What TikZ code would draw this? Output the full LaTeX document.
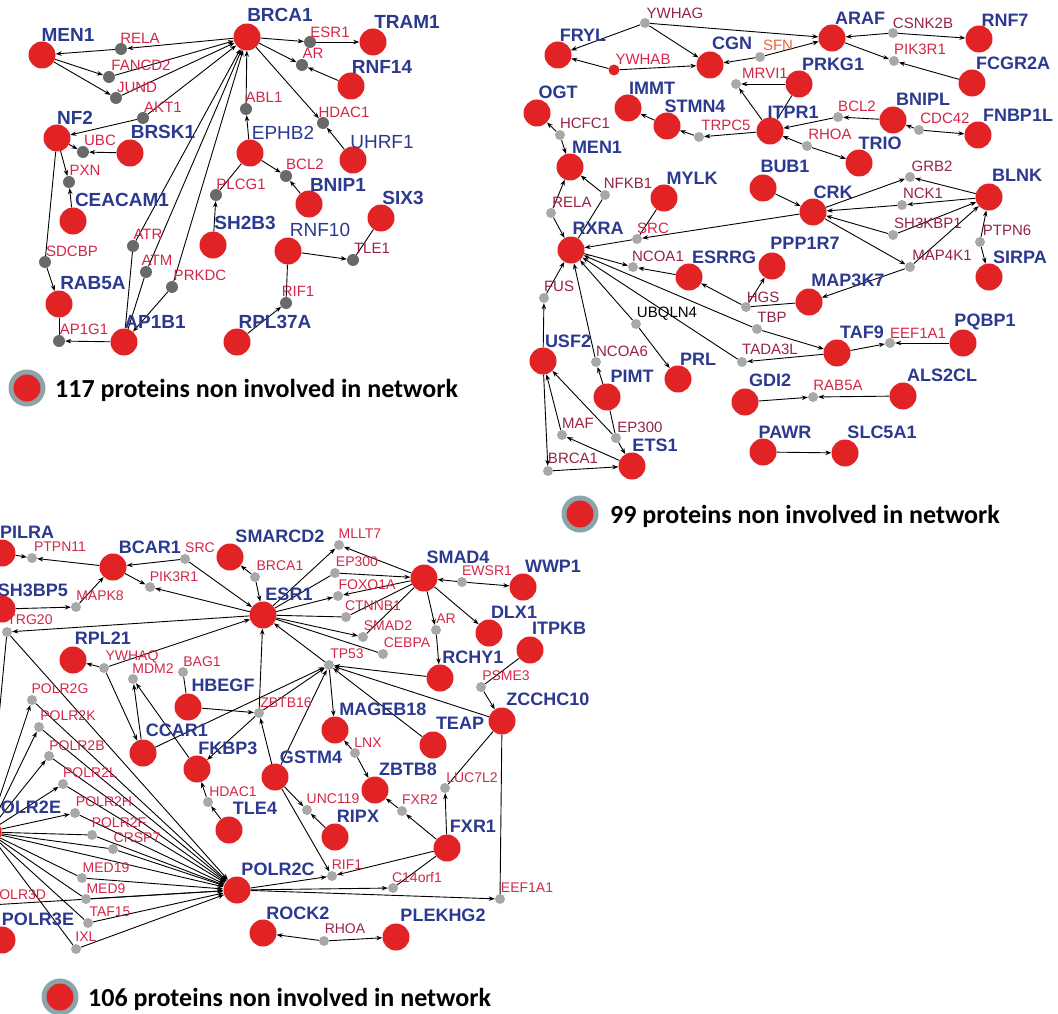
\documentclass[tikz,border=0pt]{standalone}
\usepackage{fontspec}
\setmainfont{Liberation Sans}
\newfontfamily\legendfont{Carlito}
\usetikzlibrary{arrows.meta}

\definecolor{protred}{RGB}{226,35,38}
\definecolor{protblue}{RGB}{43,57,144}
\definecolor{linkred}{RGB}{212,38,72}
\definecolor{linkmaroon}{RGB}{150,35,65}
\definecolor{sfnorange}{RGB}{232,102,52}
\definecolor{dotdark}{RGB}{105,105,105}
\definecolor{dotlight}{RGB}{168,168,168}
\definecolor{ringgray}{RGB}{140,165,170}

\pgfdeclarelayer{bg}
\pgfsetlayers{bg,main}

\tikzset{
  prot/.style={circle, fill=protred, minimum size=27pt, inner sep=0pt},
  dot/.style={circle, fill=dotlight, minimum size=10pt, inner sep=0pt},
  plab/.style={text=protblue, inner sep=0pt, font=\bfseries\fontsize{18}{18}\selectfont},
  lightlab/.style={font=\fontsize{19}{19}\selectfont},
  llab/.style={text=linkred, inner sep=0pt, font=\fontsize{14}{14}\selectfont},
  maroon/.style={text=linkmaroon},
  edge/.style={line width=0.9pt, black},
  legring/.style={circle, fill=ringgray, minimum size=37pt, inner sep=0pt},
  legdot/.style={circle, fill=protred, minimum size=27pt, inner sep=0pt},
  legtext/.style={inner sep=0pt, anchor=base west, font=\legendfont\bfseries\fontsize{26}{26}\selectfont},
  >={Stealth[length=6pt,width=4.5pt]},
}

% protein: [label style](name)(circle)(label){text}
\def\prot[#1](#2)(#3)(#4)#5{\node[prot] (#2) at (#3) {}; \node[plab,#1] (#2t) at (#4) {#5};}
% linker: [label style](name)(dot)(label){text}
\def\lnk[#1](#2)(#3)(#4)#5{\node[dot] (#2) at (#3) {}; \node[llab,#1] (#2t) at (#4) {#5};}

\begin{document}
\begin{tikzpicture}[x=1pt, y=-1pt]
  \useasboundingbox (0,0) rectangle (1058,1014);
  \clip (0,0) rectangle (1058,1014);

  %%%%% 117 %%%%%
  \begin{scope}[dot/.append style={fill=dotdark, minimum size=12pt},
      plab/.append style={font=\bfseries\fontsize{19}{19}\selectfont},
      llab/.append style={font=\fontsize{15}{15}\selectfont}]
    \prot[](aMEN1)(42,55)(68,35){MEN1}
    \prot[](aBRCA1)(247,37)(280,15){BRCA1}
    \prot[](aTRAM1)(373,42)(407,22){TRAM1}
    \prot[](aRNF14)(351,86)(382,67){RNF14}
    \prot[](aNF2)(57,138)(75,118){NF2}
    \prot[](aBRSK1)(130,153)(163,132){BRSK1}
    \prot[lightlab](aEPHB2)(250,153)(283,133){EPHB2}
    \prot[lightlab](aUHRF1)(353,160)(382,142){UHRF1}
    \prot[](aCEACAM1)(73,221)(122,200){CEACAM1}
    \prot[](aBNIP1)(309,204)(338,185){BNIP1}
    \prot[](aSIX3)(381,218)(403,198){SIX3}
    \prot[](aSH2B3)(213,245)(245,223){SH2B3}
    \prot[lightlab](aRNF10)(288,251)(320,230){RNF10}
    \prot[](aRAB5A)(59,304)(93,283){RAB5A}
    \prot[](aAP1B1)(124,342)(155,322){AP1B1}
    \prot[](aRPL37A)(237,342)(275,322){RPL37A}

    \lnk[](aRELA)(121,49)(140,38){RELA}
    \lnk[](aFANCD2)(109,77)(141,65){FANCD2}
    \lnk[](aJUND)(116,98)(137,87){JUND}
    \lnk[](aAKT1)(143,118)(163,107){AKT1}
    \lnk[](aUBC)(83,152)(100,140){UBC}
    \lnk[](aPXN)(69,182)(85,170){PXN}
    \lnk[](aESR1)(310,42)(330,32){ESR1}
    \lnk[](aAR)(302,65)(313,53){AR}
    \lnk[](aABL1)(246,109)(264,97){ABL1}
    \lnk[](aHDAC1)(323,123)(344,112){HDAC1}
    \lnk[](aBCL2)(286,176)(305,164){BCL2}
    \lnk[](aPLCG1)(216,195)(241,184){PLCG1}
    \lnk[](aSDCBP)(45,262)(72,251){SDCBP}
    \lnk[](aATR)(133,246)(148,234){ATR}
    \lnk[](aATM)(146,272)(157,260){ATM}
    \lnk[](aPRKDC)(172,287)(200,275){PRKDC}
    \lnk[](aAP1G1)(59,341)(84,329){AP1G1}
    \lnk[maroon](aTLE1)(353,260)(372,248){TLE1}
    \lnk[](aRIF1)(286,303)(298,291){RIF1}
  \end{scope}

  \begin{pgfonlayer}{bg}
    \foreach \u/\v in {aBRCA1/aRELA, aRELA/aMEN1, aMEN1/aFANCD2, aMEN1/aJUND,
        aFANCD2/aBRCA1, aJUND/aBRCA1, aAKT1/aNF2, aAKT1/aBRCA1, aNF2/aUBC,
        aBRSK1/aUBC, aNF2/aPXN, aCEACAM1/aPXN, aSDCBP/aRAB5A, aAP1B1/aAP1G1,
        aPRKDC/aAP1B1, aATR/aBRCA1, aATM/aBRCA1, aPRKDC/aBRCA1, aBRCA1/aESR1,
        aESR1/aTRAM1, aBRCA1/aAR, aRNF14/aAR, aBRCA1/aHDAC1, aUHRF1/aHDAC1,
        aABL1/aBRCA1, aEPHB2/aABL1, aEPHB2/aBCL2, aBNIP1/aBCL2, aSH2B3/aPLCG1,
        aRNF10/aTLE1, aRPL37A/aRIF1}
      \draw[edge,->] (\u) -- (\v);
    \foreach \u/\v in {aNF2/aSDCBP, aRAB5A/aAP1G1, aATR/aAP1B1, aATM/aAP1B1,
        aEPHB2/aPLCG1, aSIX3/aTLE1, aRNF10/aRIF1}
      \draw[edge] (\u) -- (\v);
  \end{pgfonlayer}

  \node[legring] (aleg) at (27,388) {};
  \node[legdot] (alegdot) at (aleg) {};
  \node[legtext] (alegt) at (55,397) {117 proteins non involved in network};

  %%%%% 99 %%%%%
  \begin{scope}[llab/.append style={font=\fontsize{15}{15}\selectfont}]
    \prot[](bFRYL)(558,55)(583,35){FRYL}
    \prot[](bCGN)(710,65)(732,43){CGN}
    \prot[](bARAF)(832,38)(860,18){ARAF}
    \prot[](bRNF7)(979,39)(1005,20){RNF7}
    \prot[](bFCGR2A)(972,83)(1013,63){FCGR2A}
    \prot[](bPRKG1)(799,84)(833,64){PRKG1}
    \prot[](bOGT)(537,113)(558,92){OGT}
    \prot[](bIMMT)(628,108)(652,88){IMMT}
    \prot[](bSTMN4)(667,126)(695,106){STMN4}
    \prot[](bITPR1)(770,131)(793,112){ITPR1}
    \prot[](bBNIPL)(893,120)(923,99){BNIPL}
    \prot[](bFNBP1L)(978,135)(1018,115){FNBP1L}
    \prot[](bTRIO)(859,163)(880,143){TRIO}
    \prot[](bMEN1)(570,167)(597,147){MEN1}
    \prot[](bBUB1)(763,188)(785,166){BUB1}
    \prot[](bMYLK)(664,198)(692,178){MYLK}
    \prot[](bCRK)(813,212)(833,192){CRK}
    \prot[](bBLNK)(989,197)(1017,175){BLNK}
    \prot[](bRXRA)(571,250)(598,228){RXRA}
    \prot[](bESRRG)(689,277)(724,257){ESRRG}
    \prot[](bPPP1R7)(772,266)(805,243){PPP1R7}
    \prot[](bSIRPA)(989,277)(1020,257){SIRPA}
    \prot[](bMAP3K7)(809,302)(848,280){MAP3K7}
    \prot[](bUSF2)(543,361)(568,341){USF2}
    \prot[](bPIMT)(607,397)(632,376){PIMT}
    \prot[](bPRL)(678,379)(698,359){PRL}
    \prot[](bTAF9)(837,353)(862,332){TAF9}
    \prot[](bPQBP1)(963,343)(985,322){PQBP1}
    \prot[](bGDI2)(745,402)(770,380){GDI2}
    \prot[](bALS2CL)(903,396)(942,375){ALS2CL}
    \prot[](bPAWR)(763,452)(785,432){PAWR}
    \prot[](bSLC5A1)(845,453)(882,432){SLC5A1}
    \prot[](bETS1)(632,466)(655,445){ETS1}

    \lnk[maroon](bYWHAG)(645,23)(675,13){YWHAG}
    \node[dot, fill=protred, minimum size=11pt] (bYWHAB) at (614,70) {};
    \node[llab] (bYWHABt) at (643,59) {YWHAB};
    \lnk[text=sfnorange](bSFN)(760,57)(778,45){SFN}
    \lnk[maroon](bCSNK2B)(893,33)(923,23){CSNK2B}
    \lnk[](bPIK3R1)(894,61)(920,49){PIK3R1}
    \lnk[](bMRVI1)(736,84)(765,73){MRVI1}
    \lnk[maroon](bHCFC1)(560,135)(585,123){HCFC1}
    \lnk[](bTRPC5)(699,137)(726,125){TRPC5}
    \lnk[](bBCL2)(838,117)(857,106){BCL2}
    \lnk[](bCDC42)(919,130)(945,118){CDC42}
    \lnk[](bRHOA)(807,146)(830,134){RHOA}
    \lnk[maroon](bGRB2)(910,177)(932,166){GRB2}
    \lnk[maroon](bNFKB1)(605,195)(628,183){NFKB1}
    \lnk[maroon](bRELA)(551,213)(572,202){RELA}
    \lnk[maroon](bNCK1)(902,205)(923,193){NCK1}
    \lnk[](bSRC)(637,239)(653,228){SRC}
    \lnk[maroon](bSH3KBP1)(893,235)(928,223){SH3KBP1}
    \lnk[maroon](bPTPN6)(980,242)(1007,230){PTPN6}
    \lnk[maroon](bNCOA1)(633,267)(658,256){NCOA1}
    \lnk[maroon](bMAP4K1)(910,267)(942,255){MAP4K1}
    \lnk[maroon](bFUS)(544,298)(559,286){FUS}
    \lnk[maroon](bHGS)(746,307)(763,297){HGS}
    \lnk[text=black](bUBQLN4)(636,324)(667,314){UBQLN4}
    \lnk[maroon](bTBP)(757,329)(772,317){TBP}
    \lnk[](bEEF1A1)(890,343)(918,333){EEF1A1}
    \lnk[maroon](bNCOA6)(596,362)(622,351){NCOA6}
    \lnk[maroon](bTADA3L)(742,362)(770,349){TADA3L}
    \lnk[](bRAB5A)(813,397)(838,385){RAB5A}
    \lnk[maroon](bMAF)(562,435)(578,423){MAF}
    \lnk[maroon](bEP300)(616,438)(640,427){EP300}
    \lnk[maroon](bBRCA1)(548,471)(573,458){BRCA1}
  \end{scope}

  \begin{pgfonlayer}{bg}
    \foreach \u/\v in {bYWHAG/bFRYL, bYWHAG/bCGN, bYWHAG/bARAF, bYWHAB/bFRYL,
        bYWHAB/bCGN, bSFN/bCGN, bSFN/bARAF, bCSNK2B/bARAF, bCSNK2B/bRNF7,
        bARAF/bPIK3R1, bFCGR2A/bPIK3R1, bITPR1/bMRVI1, bPRKG1/bMRVI1,
        bITPR1/bTRPC5, bTRPC5/bSTMN4, bSTMN4/bIMMT, bBNIPL/bBCL2, bBCL2/bITPR1,
        bCDC42/bBNIPL, bCDC42/bFNBP1L, bRHOA/bITPR1, bRHOA/bTRIO, bHCFC1/bOGT,
        bHCFC1/bMEN1, bRELA/bMEN1, bRELA/bRXRA, bNFKB1/bMEN1, bCRK/bSRC,
        bSRC/bRXRA, bBUB1/bCRK, bCRK/bGRB2, bBLNK/bGRB2, bNCK1/bCRK, bBLNK/bNCK1,
        bSH3KBP1/bCRK, bSH3KBP1/bBLNK, bCRK/bMAP4K1, bMAP4K1/bBLNK,
        bMAP4K1/bMAP3K7, bPTPN6/bBLNK, bPTPN6/bSIRPA, bHGS/bPPP1R7, bHGS/bESRRG,
        bESRRG/bNCOA1, bRXRA/bNCOA1, bUBQLN4/bRXRA, bUBQLN4/bPRL, bTBP/bRXRA,
        bTBP/bTAF9, bTADA3L/bRXRA, bTAF9/bTADA3L, bUSF2/bFUS, bFUS/bRXRA,
        bNCOA6/bRXRA, bPIMT/bNCOA6, bUSF2/bBRCA1, bBRCA1/bETS1, bMAF/bUSF2,
        bETS1/bMAF, bEP300/bUSF2, bEP300/bETS1, bTAF9/bEEF1A1, bPQBP1/bEEF1A1,
        bGDI2/bRAB5A, bALS2CL/bRAB5A, bPAWR/bSLC5A1}
      \draw[edge,->] (\u) -- (\v);
    \foreach \u/\v in {bPRKG1/bITPR1, bNFKB1/bRXRA, bMYLK/bSRC, bHGS/bMAP3K7,
        bPIMT/bEP300}
      \draw[edge] (\u) -- (\v);
  \end{pgfonlayer}

  \node[legring] (bleg) at (580,514) {};
  \node[legdot] (blegdot) at (bleg) {};
  \node[legtext] (blegt) at (610,523) {99 proteins non involved in network};

  %%%%% 106 %%%%%
  \begin{scope}
    \prot[](cPILRA)(2,553)(27,532){PILRA}
    \prot[](cBCAR1)(113,567)(150,547){BCAR1}
    \prot[](cSMARCD2)(230,557)(280,536){SMARCD2}
    \prot[](cSH3BP5)(2,609)(33,590){SH3BP5}
    \prot[](cESR1)(263,615)(289,594){ESR1}
    \prot[](cSMAD4)(424,578)(458,557){SMAD4}
    \prot[](cWWP1)(523,587)(553,566){WWP1}
    \prot[](cDLX1)(489,633)(514,612){DLX1}
    \prot[](cITPKB)(530,650)(559,628){ITPKB}
    \prot[](cRPL21)(73,660)(103,638){RPL21}
    \prot[](cRCHY1)(440,678)(473,657){RCHY1}
    \prot[](cHBEGF)(188,707)(223,685){HBEGF}
    \prot[](cZCCHC10)(502,721)(548,699){ZCCHC10}
    \prot[](cMAGEB18)(335,730)(383,709){MAGEB18}
    \prot[](cTEAP)(433,745)(460,723){TEAP}
    \prot[](cCCAR1)(143,753)(177,730){CCAR1}
    \prot[](cFKBP3)(197,769)(228,748){FKBP3}
    \prot[](cGSTM4)(275,777)(311,757){GSTM4}
    \prot[](cZBTB8)(375,790)(408,769){ZBTB8}
    \prot[](cPOLR2E)(-12,832)(25,807){POLR2E}
    \prot[](cTLE4)(229,830)(255,808){TLE4}
    \prot[](cRIPX)(335,837)(358,816){RIPX}
    \prot[](cFXR1)(447,848)(473,826){FXR1}
    \prot[](cPOLR2C)(237,890)(278,869){POLR2C}
    \prot[](cROCK2)(263,933)(298,913){ROCK2}
    \prot[](cPLEKHG2)(396,937)(443,915){PLEKHG2}
    \prot[](cPOLR3E)(2,940)(38,919){POLR3E}

    \lnk[](cPTPN11)(32,558)(60,547){PTPN11}
    \lnk[](cSRC)(185,559)(200,548){SRC}
    \lnk[](cBRCA1)(255,577)(280,566){BRCA1}
    \lnk[](cPIK3R1)(150,587)(174,577){PIK3R1}
    \lnk[](cMAPK8)(76,607)(100,596){MAPK8}
    \lnk[](cTRG20)(7,632)(30,620){TRG20}
    \lnk[](cYWHAQ)(104,668)(132,657){YWHAQ}
    \lnk[](cMDM2)(133,679)(153,669){MDM2}
    \lnk[](cBAG1)(183,672)(202,662){BAG1}
    \lnk[](cZBTB16)(259,713)(286,703){ZBTB16}
    \lnk[](cPOLR2G)(32,700)(60,689){POLR2G}
    \lnk[](cPOLR2K)(39,727)(68,716){POLR2K}
    \lnk[](cPOLR2B)(49,756)(77,746){POLR2B}
    \lnk[](cPOLR2L)(63,784)(90,773){POLR2L}
    \lnk[](cPOLR2H)(75,813)(104,802){POLR2H}
    \lnk[](cPOLR2F)(92,835)(119,823){POLR2F}
    \lnk[](cCRSP7)(113,849)(137,838){CRSP7}
    \lnk[](cMED19)(82,878)(106,868){MED19}
    \lnk[](cMED9)(86,899)(106,889){MED9}
    \lnk[](cTAF15)(88,923)(110,912){TAF15}
    \lnk[](cIXL)(76,949)(86,937){IXL}
    \lnk[](cPOLR3D)(-10,905)(18,895){POLR3D}
    \lnk[](cHDAC1)(208,802)(233,792){HDAC1}
    \lnk[](cMLLT7)(339,545)(360,534){MLLT7}
    \lnk[](cEP300)(335,573)(357,562){EP300}
    \lnk[](cFOXO1A)(338,596)(367,585){FOXO1A}
    \lnk[](cCTNNB1)(346,617)(373,606){CTNNB1}
    \lnk[](cSMAD2)(363,637)(388,626){SMAD2}
    \lnk[](cCEBPA)(383,654)(407,643){CEBPA}
    \lnk[](cEWSR1)(462,582)(487,571){EWSR1}
    \lnk[](cAR)(436,630)(446,619){AR}
    \lnk[](cTP53)(329,665)(347,654){TP53}
    \lnk[](cPSME3)(481,687)(506,676){PSME3}
    \lnk[](cLNX)(355,753)(368,743){LNX}
    \lnk[](cLUC7L2)(445,788)(472,778){LUC7L2}
    \lnk[](cUNC119)(307,810)(333,799){UNC119}
    \lnk[](cFXR2)(402,811)(420,800){FXR2}
    \lnk[](cRIF1)(332,876)(347,865){RIF1}
    \lnk[](cC14orf1)(393,888)(417,877){C14orf1}
    \lnk[](cEEF1A1)(500,899)(527,888){EEF1A1}
    \lnk[maroon](cRHOA)(324,941)(345,929){RHOA}
  \end{scope}

  \begin{pgfonlayer}{bg}
    \foreach \u/\v in {cPILRA/cPTPN11, cBCAR1/cPTPN11, cSRC/cBCAR1, cSRC/cESR1,
        cBCAR1/cPIK3R1, cESR1/cPIK3R1, cSH3BP5/cMAPK8, cMAPK8/cBCAR1,
        cESR1/cTRG20, cTRG20/cPOLR2C, cBRCA1/cSMARCD2, cBRCA1/cESR1,
        cYWHAQ/cRPL21, cYWHAQ/cESR1, cYWHAQ/cCCAR1, cCCAR1/cMDM2, cFKBP3/cMDM2,
        cHBEGF/cZBTB16, cZBTB16/cESR1, cCCAR1/cTP53, cZBTB16/cTP53,
        cGSTM4/cZBTB16, cZBTB16/cFKBP3, cHDAC1/cFKBP3, cTLE4/cHDAC1,
        cGSTM4/cTP53, cGSTM4/cUNC119, cRIPX/cUNC119, cGSTM4/cRIF1, cFXR1/cRIF1,
        cPOLR2C/cRIF1, cFXR1/cFXR2, cFXR2/cZBTB8, cFXR1/cLUC7L2,
        cPOLR2C/cC14orf1, cPOLR2C/cEEF1A1, cRHOA/cROCK2, cRHOA/cPLEKHG2,
        cLNX/cMAGEB18, cLNX/cZBTB8, cTP53/cMAGEB18, cTEAP/cTP53, cRCHY1/cTP53,
        cZCCHC10/cTP53, cPSME3/cZCCHC10, cSMAD4/cAR, cAR/cRCHY1, cSMAD4/cDLX1,
        cEWSR1/cSMAD4, cEWSR1/cWWP1, cSMAD4/cMLLT7, cESR1/cMLLT7, cEP300/cSMAD4,
        cSMAD4/cFOXO1A, cESR1/cFOXO1A, cESR1/cSMAD2, cTP53/cESR1,
        cPOLR2E/cPOLR2G, cPOLR2E/cPOLR2K, cPOLR2E/cPOLR2B, cPOLR2E/cPOLR2L,
        cPOLR2E/cPOLR2H, cPOLR2E/cPOLR2C, cPOLR3D/cPOLR2C}
      \draw[edge,->] (\u) -- (\v);
    \foreach \u in {cPOLR2G, cPOLR2K, cPOLR2B, cPOLR2L, cPOLR2H, cPOLR2F,
        cCRSP7, cMED19, cMED9, cTAF15, cIXL}
      \draw[edge,->] (\u) -- (cPOLR2C);
    \foreach \u/\v in {cTRG20/cPOLR2E, cBAG1/cHBEGF, cLUC7L2/cZCCHC10,
        cFXR1/cC14orf1, cZCCHC10/cEEF1A1, cITPKB/cPSME3, cESR1/cEP300,
        cSMAD4/cCTNNB1, cESR1/cCTNNB1, cSMAD4/cSMAD2, cESR1/cCEBPA,
        cPOLR2E/cPOLR2F, cPOLR2E/cCRSP7, cPOLR2E/cMED19, cPOLR2E/cMED9,
        cPOLR2E/cTAF15, cPOLR2E/cIXL}
      \draw[edge] (\u) -- (\v);
  \end{pgfonlayer}

  \node[legring] (cleg) at (60,997) {};
  \node[legdot] (clegdot) at (cleg) {};
  \node[legtext] (clegt) at (88,1006) {106 proteins non involved in network};
\end{tikzpicture}
\end{document}
